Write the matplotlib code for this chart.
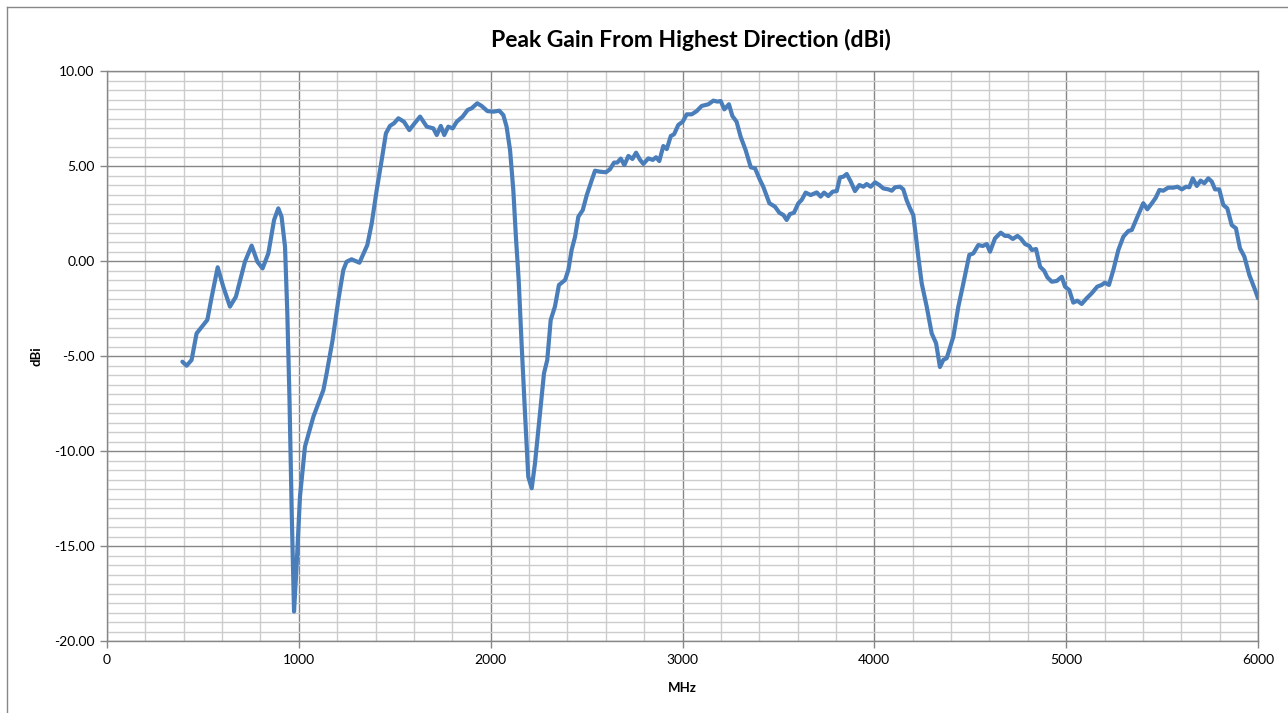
import matplotlib
matplotlib.use("Agg")
import matplotlib.pyplot as plt
from matplotlib.lines import Line2D
from matplotlib.ticker import MultipleLocator, FormatStrFormatter

freq_mhz = [393, 415, 441, 467, 502, 523, 546, 577, 606, 641, 672, 719, 754, 784, 811, 841,
            871, 893, 910, 928, 940, 951, 963, 975, 989, 1006, 1032, 1076, 1128, 1145, 1176,
            1206, 1232, 1249, 1275, 1316, 1357, 1380, 1406, 1432, 1454, 1475, 1496, 1519,
            1548, 1576, 1606, 1632, 1667, 1701, 1719, 1740, 1758, 1779, 1802, 1823, 1854,
            1880, 1901, 1930, 1953, 1983, 2014, 2045, 2066, 2083, 2101, 2118, 2132, 2146,
            2162, 2179, 2196, 2214, 2231, 2257, 2278, 2295, 2313, 2335, 2356, 2388, 2405,
            2422, 2440, 2457, 2480, 2501, 2527, 2544, 2570, 2601, 2622, 2643, 2660, 2678,
            2697, 2718, 2739, 2758, 2779, 2796, 2822, 2845, 2862, 2879, 2900, 2918, 2939,
            2956, 2978, 3001, 3022, 3048, 3074, 3100, 3135, 3161, 3182, 3199, 3218, 3242,
            3260, 3282, 3303, 3329, 3356, 3378, 3404, 3421, 3453, 3482, 3505, 3526, 3543,
            3560, 3581, 3604, 3621, 3642, 3668, 3700, 3720, 3738, 3760, 3783, 3804, 3821,
            3839, 3856, 3877, 3899, 3922, 3943, 3960, 3981, 4004, 4026, 4047, 4073, 4091,
            4108, 4134, 4151, 4168, 4186, 4203, 4217, 4229, 4247, 4273, 4299, 4322, 4342,
            4360, 4377, 4412, 4438, 4464, 4495, 4516, 4542, 4565, 4586, 4603, 4629, 4659,
            4681, 4699, 4722, 4746, 4763, 4786, 4808, 4821, 4843, 4864, 4885, 4902, 4925,
            4951, 4977, 4994, 5016, 5037, 5058, 5081, 5107, 5133, 5162, 5185, 5202, 5223,
            5246, 5272, 5298, 5324, 5342, 5368, 5402, 5423, 5449, 5467, 5486, 5506, 5532,
            5559, 5580, 5603, 5625, 5642, 5660, 5681, 5701, 5720, 5741, 5759, 5776, 5798,
            5819, 5840, 5863, 5885, 5906, 5929, 5955, 5985, 6000]

gain_dbi = [-5.30, -5.51, -5.21, -3.81, -3.37, -3.10, -1.88, -0.33, -1.35, -2.40, -1.88,
            -0.04, 0.81, -0.04, -0.39, 0.40, 2.16, 2.77, 2.33, 0.75, -2.75, -7.14, -13.28,
            -18.45, -15.90, -12.40, -9.77, -8.19, -6.79, -5.91, -4.16, -2.05, -0.47, -0.04,
            0.09, -0.09, 0.84, 1.98, 3.74, 5.32, 6.72, 7.11, 7.25, 7.51, 7.33, 6.89, 7.28,
            7.60, 7.07, 6.98, 6.63, 7.11, 6.63, 7.07, 6.98, 7.33, 7.60, 7.95, 8.04, 8.30,
            8.16, 7.89, 7.86, 7.91, 7.68, 7.07, 5.84, 3.74, 1.20, -1.00, -4.51, -8.02,
            -11.35, -11.96, -10.65, -8.02, -5.91, -5.21, -3.10, -2.40, -1.26, -1.00, -0.47,
            0.58, 1.28, 2.33, 2.68, 3.47, 4.26, 4.75, 4.70, 4.67, 4.83, 5.18, 5.18, 5.39,
            5.05, 5.53, 5.37, 5.70, 5.32, 5.11, 5.40, 5.32, 5.46, 5.26, 6.05, 5.89, 6.58,
            6.67, 7.16, 7.33, 7.72, 7.72, 7.89, 8.16, 8.25, 8.44, 8.39, 8.42, 7.98, 8.25,
            7.63, 7.33, 6.54, 5.84, 4.93, 4.88, 4.26, 3.91, 3.04, 2.86, 2.54, 2.42, 2.16,
            2.47, 2.54, 3.04, 3.21, 3.60, 3.47, 3.61, 3.39, 3.60, 3.42, 3.65, 3.68, 4.40,
            4.44, 4.58, 4.18, 3.68, 4.00, 3.91, 4.05, 3.91, 4.14, 4.00, 3.82, 3.77, 3.70,
            3.88, 3.91, 3.77, 3.21, 2.77, 2.42, 1.28, 0.23, -1.18, -2.40, -3.81, -4.33,
            -5.58, -5.20, -5.12, -3.98, -2.40, -1.18, 0.32, 0.40, 0.84, 0.79, 0.89, 0.49,
            1.19, 1.49, 1.32, 1.32, 1.16, 1.32, 1.19, 0.89, 0.79, 0.58, 0.63, -0.30, -0.51,
            -0.86, -1.09, -1.05, -0.83, -1.35, -1.53, -2.19, -2.09, -2.26, -1.96, -1.70,
            -1.35, -1.26, -1.14, -1.26, -0.47, 0.58, 1.28, 1.58, 1.63, 2.25, 3.04, 2.72,
            3.07, 3.33, 3.74, 3.70, 3.86, 3.86, 3.91, 3.77, 3.91, 3.88, 4.35, 3.95, 4.23,
            4.09, 4.35, 4.18, 3.77, 3.77, 2.95, 2.77, 1.89, 1.72, 0.67, 0.23, -0.74, -1.53,
            -1.96]

title_text = "Peak Gain From Highest Direction (dBi)"
x_label = "MHz"
y_label = "dBi"

W, H = 1288, 713
fig = plt.figure(figsize=(W / 100, H / 100), dpi=100)
fig.patch.set_facecolor("white")
ax = fig.add_axes([107 / W, (H - 641) / H, (1258 - 107) / W, (641 - 71) / H])

ax.plot(freq_mhz, gain_dbi, color="#4A7EBB", lw=3.0, solid_joinstyle="round",
        solid_capstyle="round", zorder=3)

ax.set_xlim(0, 6000)
ax.set_ylim(-20, 10)
ax.xaxis.set_major_locator(MultipleLocator(1000))
ax.xaxis.set_minor_locator(MultipleLocator(200))
ax.yaxis.set_major_locator(MultipleLocator(5))
ax.yaxis.set_minor_locator(MultipleLocator(0.5))
ax.yaxis.set_major_formatter(FormatStrFormatter("%.2f"))

ax.grid(which="minor", color="#CCCCCC", lw=1.0, zorder=0)
ax.grid(which="major", color="#878787", lw=1.0, zorder=1)
ax.set_axisbelow(True)

for s in ax.spines.values():
    s.set_color("#878787")
    s.set_linewidth(1.0)

ax.tick_params(which="major", direction="out", length=5, width=1, color="#878787",
               labelsize=10, labelcolor="black", pad=4)
ax.tick_params(which="minor", length=0)
for lab in ax.get_xticklabels() + ax.get_yticklabels():
    lab.set_fontfamily("Lato")

ax.set_xlabel(x_label, fontsize=9.5, fontweight="bold", family="Lato", labelpad=12)
ax.set_ylabel(y_label, fontsize=9.5, fontweight="bold", family="Lato", labelpad=8)

fig.text(691 / W, 1 - 40 / H, title_text, ha="center", va="center",
         fontsize=16.5, fontweight="bold", family="Lato")

# chart-area border (left and top edges visible)
fig.add_artist(Line2D([6.5 / W, 6.5 / W], [0, 1 - 7 / H], transform=fig.transFigure,
                      color="#878787", lw=1))
fig.add_artist(Line2D([6.5 / W, 1], [1 - 7 / H, 1 - 7 / H], transform=fig.transFigure,
                      color="#878787", lw=1))

fig.savefig("out.png", dpi=100)
